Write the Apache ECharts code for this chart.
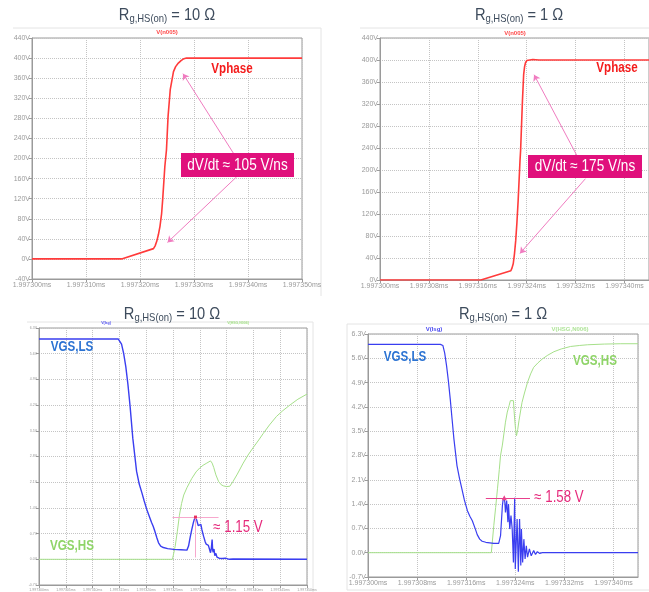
<!DOCTYPE html>
<html>
<head>
<meta charset="utf-8">
<script src="https://cdn.jsdelivr.net/npm/echarts@6/dist/echarts.min.js"></script>
<style>
  html, body { margin: 0; padding: 0; background: #fff; }
  #c { width: 649px; height: 592px; }
</style>
</head>
<body>
<div id="c"></div>
<script>
// All times are ns after 1.997300 ms.

// Switch-node voltage, Rg,HS(on) = 10 ohm
const phase10T = [0, 16.6, 22.5, 22.8, 23.1, 23.4, 23.7, 24.0, 24.2, 24.6, 24.9, 25.2, 25.6, 26.2, 26.6, 27.1, 27.6, 28.0, 28.6, 50];
const phase10V = [0, 0, 20.5, 26, 35, 48, 65, 90, 118, 184, 217, 284, 337, 373, 383, 390, 395, 398, 400, 400];

// Switch-node voltage, Rg,HS(on) = 1 ohm
const phase1T = [0, 16.5, 21.4, 21.6, 21.8, 22.0, 22.2, 22.4, 22.6, 22.9, 23.0, 23.3, 23.5, 23.65, 23.8, 24.0, 24.2, 25, 26, 44];
const phase1V = [0, 0, 16.8, 22, 30, 48, 72, 105, 145, 217, 236, 326, 374, 388, 395, 399, 400.5, 401, 400, 400];

// Low-side gate voltage, 10 ohm case
const lsg10T = [0, 14.8, 15.1, 15.4, 15.8, 16.2, 16.6, 17.0, 17.5, 18.2, 18.7, 19.2, 19.6, 20.1, 20.5, 21.0, 21.3, 21.6, 22.0, 22.3, 22.7, 23.2, 24.0, 25.1, 26.5, 27.6, 27.9, 28.2, 28.5, 28.8, 29.0, 29.2, 29.4, 29.7, 29.9, 30.2, 30.4, 30.7, 31.0, 31.2, 31.4, 31.6, 31.8, 32.0, 32.15, 32.3, 32.4, 32.5, 32.65, 32.8, 33.0, 33.2, 33.4, 33.6, 33.8, 34.2, 34.8, 35.5, 36.2, 50];
const lsg10V = [6.0, 6.0, 5.97, 5.86, 5.6, 5.24, 4.75, 4.16, 3.3, 2.4, 2.05, 1.81, 1.6, 1.36, 1.2, 1.0, 0.9, 0.77, 0.58, 0.45, 0.36, 0.32, 0.29, 0.27, 0.26, 0.25, 0.36, 0.6, 0.81, 1.0, 1.1, 1.15, 1.08, 0.92, 0.9, 0.95, 0.8, 0.63, 0.48, 0.41, 0.45, 0.38, 0.42, 0.18, 0.3, 0.54, 0.25, 0.19, 0.28, 0.1, 0.16, 0.06, 0.1, 0.03, 0.06, 0.02, 0.03, 0.0, 0.01, 0];

// High-side gate-source voltage, 10 ohm case
const hsg10T = [0, 24.9, 25.4, 25.8, 26.2, 26.6, 27.0, 27.6, 28.5, 29.3, 30.0, 30.6, 31.3, 32.0, 32.3, 32.6, 33.0, 33.5, 34.0, 34.4, 35.0, 35.6, 36.2, 37.0, 38.1, 39.0, 40.0, 41.0, 41.8, 43.0, 44.3, 45.5, 46.8, 48.3, 50];
const hsg10V = [0, 0, 0.35, 0.75, 1.2, 1.52, 1.75, 1.95, 2.2, 2.38, 2.49, 2.56, 2.62, 2.68, 2.62, 2.5, 2.3, 2.12, 2.03, 2.0, 1.98, 1.99, 2.12, 2.32, 2.62, 2.84, 3.05, 3.25, 3.42, 3.66, 3.89, 4.05, 4.2, 4.36, 4.5];

// Low-side gate voltage, 1 ohm case
const lsg1T = [0, 11.8, 12.2, 12.5, 12.8, 13.1, 13.4, 13.7, 14.0, 14.5, 14.9, 15.3, 15.7, 16.2, 16.6, 17.0, 17.5, 17.8, 18.2, 18.6, 19.2, 20.5, 21.3, 21.6, 21.9, 22.0, 22.2, 22.3, 22.4, 22.6, 22.8, 22.9, 23.1, 23.3, 23.5, 23.7, 23.9, 24.0, 24.3, 24.5, 24.7, 24.9, 25.0, 25.2, 25.4, 25.6, 25.8, 26.0, 26.3, 26.6, 27.0, 27.3, 27.6, 28.0, 28.4, 44];
const lsg1V = [6.0, 6.0, 5.97, 5.75, 5.39, 4.95, 4.43, 3.85, 3.28, 2.51, 2.15, 1.84, 1.52, 1.21, 1.05, 0.92, 0.68, 0.52, 0.39, 0.33, 0.3, 0.27, 0.27, 0.49, 1.35, 1.5, 1.58, 1.45, 1.16, 1.5, 0.88, 1.4, 0.68, 1.07, 0.68, -0.28, 1.58, -0.47, 0.97, -0.55, 0.97, -0.37, 0.68, -0.28, 0.39, -0.18, 0.2, -0.13, 0.11, -0.09, 0.06, -0.05, 0.03, -0.02, 0, 0];

// High-side gate-source voltage, 1 ohm case
const hsg1T = [0, 20.1, 20.5, 20.8, 21.1, 21.4, 21.6, 21.9, 22.4, 22.7, 23.0, 23.2, 23.45, 23.7, 23.8, 23.9, 24.05, 24.2, 24.4, 24.6, 25.1, 25.5, 26.0, 26.5, 27.0, 27.7, 28.4, 29.3, 30.3, 31.5, 33.0, 34.5, 35.8, 38.5, 41.2, 44];
const hsg1V = [0, 0, 0.78, 1.3, 1.84, 2.4, 2.8, 3.1, 3.76, 4.05, 4.24, 4.38, 4.43, 4.38, 4.1, 3.85, 3.55, 3.37, 3.55, 3.8, 4.33, 4.6, 4.91, 5.15, 5.34, 5.47, 5.58, 5.69, 5.79, 5.87, 5.94, 5.97, 5.99, 6.01, 6.02, 6.02];

// Stated peak values of the low-side gate bounce and the slew rates
const peak10 = 1.15;
const peak1 = 1.58;
const dvdt10 = 105;
const dvdt1 = 175;

const zip = (t, v) => t.map((x, i) => [x, v[i]]);

const SANS = "'Liberation Sans', Arial, sans-serif";
const NARROW_X = 0.83;          // horizontal squeeze for the annotation type
const AXIS_GREY = '#9a9a9a';
const TITLE_COL = '#3d4b5c';
const PINK = '#e0107c';

function timeLabel(v) { return (1.9973 + v * 1e-6).toFixed(6) + 'ms'; }

function xAxis(gi, max, step, fs) {
  return {
    type: 'value', gridIndex: gi, min: 0, max: max, interval: step,
    axisLine: { show: true, onZero: false, lineStyle: { color: AXIS_GREY } },
    axisTick: { show: true, length: 3, lineStyle: { color: AXIS_GREY } },
    axisLabel: { fontSize: fs, color: AXIS_GREY, margin: 3, fontFamily: SANS, formatter: timeLabel, showMaxLabel: max % step === 0 },
    splitLine: { show: true, lineStyle: { color: '#c4c4c4', type: 'dotted' } }
  };
}
function yAxis(gi, min, max, step, fs, dec) {
  return {
    type: 'value', gridIndex: gi, min: min, max: max, interval: step,
    axisLine: { show: true, onZero: false, lineStyle: { color: AXIS_GREY } },
    axisTick: { show: true, length: 3, lineStyle: { color: AXIS_GREY } },
    axisLabel: { fontSize: fs, color: AXIS_GREY, margin: 2, fontFamily: SANS, formatter: v => (dec ? v.toFixed(dec) : Math.round(v)) + 'V' },
    splitLine: { show: true, lineStyle: { color: '#c4c4c4', type: 'dotted' } }
  };
}
function gridBox(left, top, width, height) {
  return { left: left, top: top, width: width, height: height, show: true, borderColor: AXIS_GREY, borderWidth: 1, backgroundColor: 'transparent' };
}
function seg(from, to) { return [{ coord: from }, { coord: to }]; }

function title(x, y, ohm) {
  return {
    type: 'text', x: x, y: y, z: 10, scaleX: 0.86,
    style: {
      text: '{r|R}{s|g,HS(on)}{r| = ' + ohm + ' Ω}',
      align: 'center', verticalAlign: 'middle',
      rich: {
        r: { fontSize: 17, fontFamily: SANS, fill: TITLE_COL, lineHeight: 20, verticalAlign: 'bottom' },
        s: { fontSize: 11, fontFamily: SANS, fill: TITLE_COL, lineHeight: 13, verticalAlign: 'bottom' }
      }
    }
  };
}
function label(x, y, text, color, size, weight, sx) {
  return {
    type: 'text', x: x, y: y, z: 10, scaleX: sx || NARROW_X,
    style: { text: text, fill: color, fontSize: size, fontWeight: weight || 'normal', fontFamily: SANS, align: 'center', verticalAlign: 'middle' }
  };
}
function badge(x, y, w, h, text) {
  return [
    { type: 'rect', x: x, y: y, z: 10, shape: { width: w, height: h }, style: { fill: PINK } },
    { type: 'text', x: x + w / 2, y: y + h / 2 + 0.5, z: 11, scaleX: 0.85,
      style: { text: text, fill: '#ffffff', fontSize: 16, fontFamily: SANS, align: 'center', verticalAlign: 'middle' } }
  ];
}
function hline(x1, x2, y) { return { type: 'line', z: 0, shape: { x1: x1, y1: y, x2: x2, y2: y }, style: { stroke: '#e4e4e4', lineWidth: 1 } }; }
function vline(x, y1, y2) { return { type: 'line', z: 0, shape: { x1: x, y1: y1, x2: x, y2: y2 }, style: { stroke: '#e4e4e4', lineWidth: 1 } }; }

const arrowStyle = { color: '#f07cc0', width: 1, type: 'solid' };

const option = {
  animation: false,
  backgroundColor: '#fff',
  grid: [
    gridBox(32, 38, 270, 241),
    gridBox(380, 38, 271, 242),
    gridBox(39, 328, 268, 258),
    gridBox(368, 334, 270, 243)
  ],
  xAxis: [
    xAxis(0, 50, 10, 7),
    xAxis(1, 44, 8, 7),
    xAxis(2, 50, 5, 3.5),
    xAxis(3, 44, 8, 7)
  ],
  yAxis: [
    yAxis(0, -40, 440, 40, 7, 0),
    yAxis(1, 0, 440, 40, 7, 0),
    yAxis(2, -0.7, 6.3, 0.7, 3.5, 1),
    yAxis(3, -0.7, 6.3, 0.7, 7, 1)
  ],
  series: [
    {
      type: 'line', xAxisIndex: 0, yAxisIndex: 0, data: zip(phase10T, phase10V),
      showSymbol: false, lineStyle: { color: '#ff3b3b', width: 1.6 },
      markLine: {
        silent: true, symbol: ['none', 'arrow'], symbolSize: 6, label: { show: false }, lineStyle: arrowStyle,
        data: [seg([37.3, 210.5], [27.96, 368.9]), seg([37.9, 163.6], [25.1, 32.9])]
      }
    },
    {
      type: 'line', xAxisIndex: 1, yAxisIndex: 1, data: zip(phase1T, phase1V),
      showSymbol: false, lineStyle: { color: '#ff3b3b', width: 1.6 },
      markLine: {
        silent: true, symbol: ['none', 'arrow'], symbolSize: 6, label: { show: false }, lineStyle: arrowStyle,
        data: [seg([32.2, 226.4], [25.2, 373.2]), seg([33.6, 184.2], [22.9, 48.4])]
      }
    },
    {
      type: 'line', xAxisIndex: 2, yAxisIndex: 2, data: zip(hsg10T, hsg10V),
      showSymbol: false, lineStyle: { color: '#a6e08a', width: 1 }
    },
    {
      type: 'line', xAxisIndex: 2, yAxisIndex: 2, data: zip(lsg10T, lsg10V),
      showSymbol: false, lineStyle: { color: '#3a3ef0', width: 1.4 },
      markLine: {
        silent: true, symbol: 'none', label: { show: false }, lineStyle: { color: '#f7a8cd', width: 1, type: 'solid' },
        data: [seg([24.9, peak10], [33.5, peak10]), seg([29.2, peak10], [29.2, 0.05])]
      },
      markPoint: {
        silent: true, symbol: 'rect', symbolSize: 3, label: { show: false }, itemStyle: { color: '#e8305c' },
        data: [{ coord: [29.2, peak10] }]
      }
    },
    {
      type: 'line', xAxisIndex: 3, yAxisIndex: 3, data: zip(hsg1T, hsg1V),
      showSymbol: false, lineStyle: { color: '#a6e08a', width: 1 }
    },
    {
      type: 'line', xAxisIndex: 3, yAxisIndex: 3, data: zip(lsg1T, lsg1V),
      showSymbol: false, lineStyle: { color: '#3a3ef0', width: 1.2 },
      markLine: {
        silent: true, symbol: 'none', label: { show: false }, lineStyle: { color: '#e8408c', width: 1, type: 'solid' },
        data: [seg([19.2, peak1], [26.4, peak1])]
      },
      markPoint: {
        silent: true, symbol: 'triangle', symbolSize: 5, label: { show: false }, itemStyle: { color: '#e8408c' },
        data: [{ coord: [22.2, peak1] }]
      }
    }
  ],
  graphic: [
    // faint panel outlines
    hline(13, 321, 28), vline(321, 28, 296),
    hline(360, 649, 28),
    hline(27, 313, 322), vline(313, 322, 592),
    hline(347, 649, 324), hline(347, 649, 590), vline(347, 324, 590),

    title(167, 14, 10), title(519, 14, 1), title(172, 313, 10), title(503, 313, 1),

    // trace names
    label(167, 32, 'V(n005)', '#ff4a4a', 6, 'bold', 1),
    label(515, 33, 'V(n005)', '#ff4a4a', 6, 'bold', 1),
    label(106, 323, 'V(lsg)', '#4a4af0', 3.5, 'bold', 1),
    label(238, 323, 'V(HSG,N006)', '#a6e08a', 3.5, 'bold', 1),
    label(434, 329, 'V(lsg)', '#4a4af0', 6, 'bold', 1),
    label(570, 329, 'V(HSG,N006)', '#b0e49a', 6, 'bold', 1),

    // curve names
    label(232, 69, 'Vphase', '#f41c1c', 14, 'bold'),
    label(617, 68, 'Vphase', '#f41c1c', 14, 'bold'),
    label(72, 347, 'VGS,LS', '#2a72d2', 14, 'bold'),
    label(72, 546, 'VGS,HS', '#8fd468', 14, 'bold'),
    label(405, 357, 'VGS,LS', '#2a72d2', 14, 'bold'),
    label(595, 361, 'VGS,HS', '#8fd468', 14, 'bold'),

    ...badge(181, 153, 113, 24, 'dV/dt ≈ ' + dvdt10 + ' V/ns'),
    ...badge(528, 155, 114, 23, 'dV/dt ≈ ' + dvdt1 + ' V/ns'),

    label(238, 528, '≈ ' + peak10.toFixed(2) + ' V', '#e62a7c', 16, 'normal'),
    label(559, 498, '≈ ' + peak1.toFixed(2) + ' V', '#e62a7c', 16, 'normal')
  ]
};

const chart = echarts.init(document.getElementById('c'), null, { renderer: 'canvas' });
chart.setOption(option);
</script>
</body>
</html>
